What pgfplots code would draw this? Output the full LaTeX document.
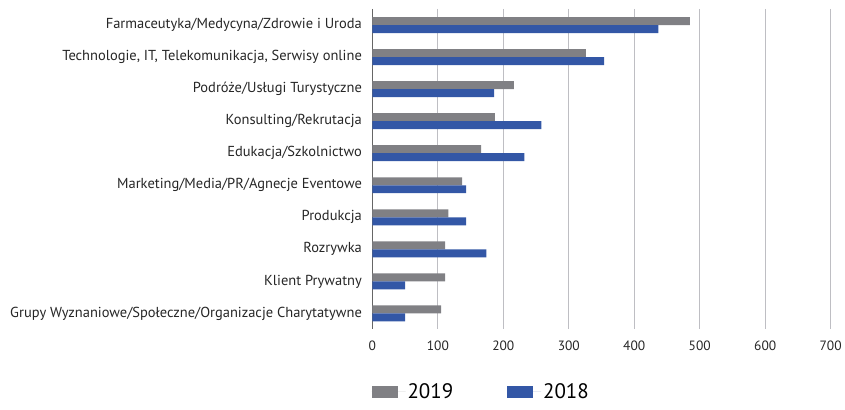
\documentclass[border=0pt]{standalone}
\usepackage{fontspec}
\setmainfont{PT Sans}
\usepackage{pgfplots}
\pgfplotsset{compat=1.18}
\definecolor{c2019}{RGB}{128,128,132}
\definecolor{c2018}{RGB}{51,87,166}
\definecolor{gridc}{RGB}{190,190,195}

\begin{document}
\begin{tikzpicture}
\begin{axis}[
  scale only axis,
  width=459pt, height=321pt,
  xbar, bar width=8pt,
  xmin=0, xmax=700,
  ymin=-0.5, ymax=9.5,
  y dir=reverse,
  xtick={0,100,...,700},
  ytick={0,...,9},
  yticklabels={
    Farmaceutyka/Medycyna/Zdrowie i Uroda,
    {Technologie, IT, Telekomunikacja, Serwisy online},
    Podróże/Usługi Turystyczne,
    Konsulting/Rekrutacja,
    Edukacja/Szkolnictwo,
    Marketing/Media/PR/Agnecje Eventowe,
    Produkcja,
    Rozrywka,
    Klient Prywatny,
    Grupy Wyznaniowe/Społeczne/Organizacje Charytatywne},
  /pgf/number format/assume math mode=true,
  tick label style={font=\fontsize{14.5}{16}\selectfont, text=black!85},
  xticklabel style={yshift=-8pt, font=\fontsize{13.5}{16}\selectfont},
  yticklabel style={xshift=-7pt},
  major tick length=0pt,
  axis line style={draw=none},
  xmajorgrids, grid style={gridc, line width=1.2pt},
  extra x ticks={0}, extra x tick labels={},
  extra x tick style={grid style={black!60, line width=1.6pt}},
  legend style={at={(0,0)}, anchor=north west, yshift=-54pt, xshift=-1pt,
    draw=none, inner sep=0pt, legend columns=2,
    font=\fontsize{21}{24}\selectfont,
    nodes={inner ysep=0pt, inner xsep=2pt},
    /tikz/every even column/.append style={column sep=52pt}},
  legend image code/.code={\draw[#1, draw=none] (0pt,-6pt) rectangle (26pt,6pt);
    \path (0pt,0pt) -- (34pt,0pt);},
]
\addplot[fill=c2019, draw=none, bar shift=4pt] coordinates {
  (485,0) (326,1) (216,2) (187,3) (166,4) (137,5) (116,6) (111,7) (111,8) (105,9)};
\addlegendentry{2019}
\addplot[fill=c2018, draw=none, bar shift=-4pt] coordinates {
  (437,0) (354,1) (186,2) (258,3) (232,4) (143,5) (143,6) (174,7) (50,8) (50,9)};
\addlegendentry{2018}
\end{axis}
\path ([yshift=9pt]current axis.north west) ([xshift=-373pt,yshift=-80pt]current axis.south west);
\end{tikzpicture}
\end{document}
